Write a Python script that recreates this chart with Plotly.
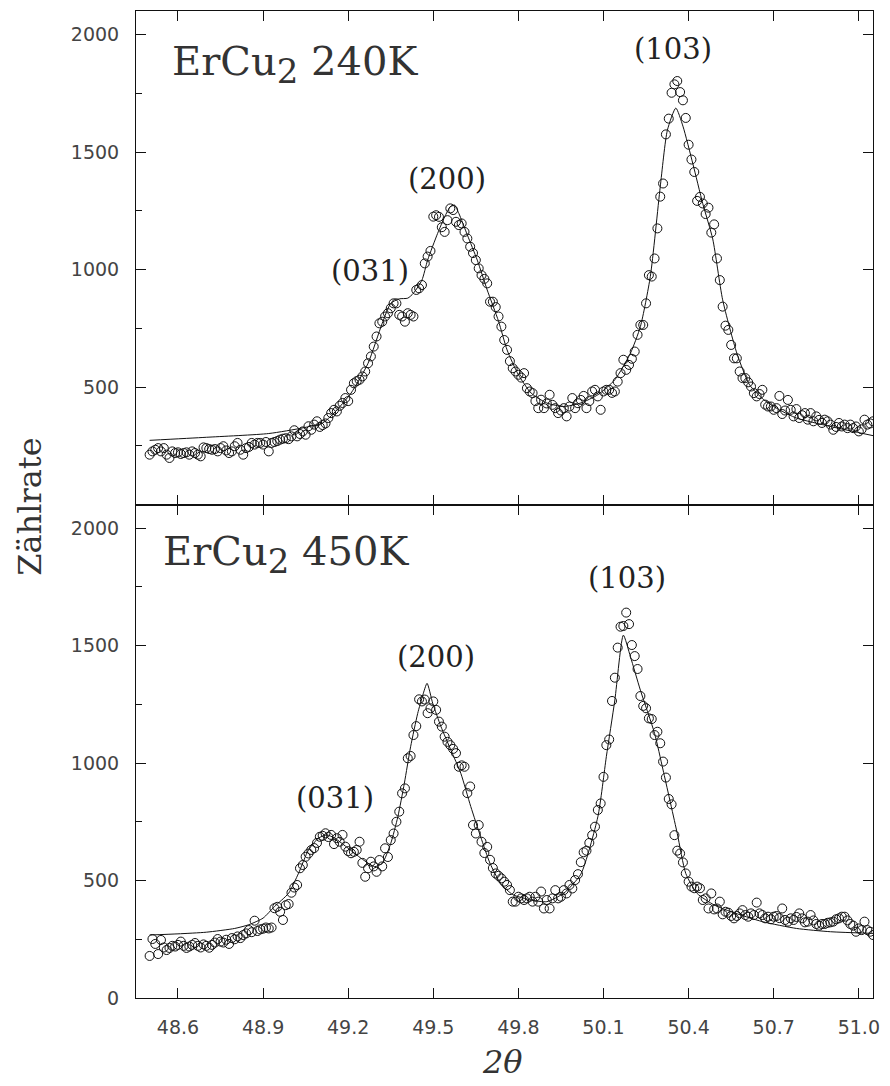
import plotly.graph_objects as go

# 2-theta grid of the measured points (shared by both panels)
TWO_THETA = [
    48.50, 48.51, 48.52, 48.53, 48.54, 48.55, 48.56, 48.57, 48.58, 48.59,
    48.60, 48.61, 48.62, 48.63, 48.64, 48.65, 48.66, 48.67, 48.68, 48.69,
    48.70, 48.71, 48.72, 48.73, 48.74, 48.75, 48.76, 48.77, 48.78, 48.79,
    48.80, 48.81, 48.82, 48.83, 48.84, 48.85, 48.86, 48.87, 48.88, 48.89,
    48.90, 48.91, 48.92, 48.93, 48.94, 48.95, 48.96, 48.97, 48.98, 48.99,
    49.00, 49.01, 49.02, 49.03, 49.04, 49.05, 49.06, 49.07, 49.08, 49.09,
    49.10, 49.11, 49.12, 49.13, 49.14, 49.15, 49.16, 49.17, 49.18, 49.19,
    49.20, 49.21, 49.22, 49.23, 49.24, 49.25, 49.26, 49.27, 49.28, 49.29,
    49.30, 49.31, 49.32, 49.33, 49.34, 49.35, 49.36, 49.37, 49.38, 49.39,
    49.40, 49.41, 49.42, 49.43, 49.44, 49.45, 49.46, 49.47, 49.48, 49.49,
    49.50, 49.51, 49.52, 49.53, 49.54, 49.55, 49.56, 49.57, 49.58, 49.59,
    49.60, 49.61, 49.62, 49.63, 49.64, 49.65, 49.66, 49.67, 49.68, 49.69,
    49.70, 49.71, 49.72, 49.73, 49.74, 49.75, 49.76, 49.77, 49.78, 49.79,
    49.80, 49.81, 49.82, 49.83, 49.84, 49.85, 49.86, 49.87, 49.88, 49.89,
    49.90, 49.91, 49.92, 49.93, 49.94, 49.95, 49.96, 49.97, 49.98, 49.99,
    50.00, 50.01, 50.02, 50.03, 50.04, 50.05, 50.06, 50.07, 50.08, 50.09,
    50.10, 50.11, 50.12, 50.13, 50.14, 50.15, 50.16, 50.17, 50.18, 50.19,
    50.20, 50.21, 50.22, 50.23, 50.24, 50.25, 50.26, 50.27, 50.28, 50.29,
    50.30, 50.31, 50.32, 50.33, 50.34, 50.35, 50.36, 50.37, 50.38, 50.39,
    50.40, 50.41, 50.42, 50.43, 50.44, 50.45, 50.46, 50.47, 50.48, 50.49,
    50.50, 50.51, 50.52, 50.53, 50.54, 50.55, 50.56, 50.57, 50.58, 50.59,
    50.60, 50.61, 50.62, 50.63, 50.64, 50.65, 50.66, 50.67, 50.68, 50.69,
    50.70, 50.71, 50.72, 50.73, 50.74, 50.75, 50.76, 50.77, 50.78, 50.79,
    50.80, 50.81, 50.82, 50.83, 50.84, 50.85, 50.86, 50.87, 50.88, 50.89,
    50.90, 50.91, 50.92, 50.93, 50.94, 50.95, 50.96, 50.97, 50.98, 50.99,
    51.00, 51.01, 51.02, 51.03, 51.04, 51.05,
]

# measured counts, ErCu2 at 240 K (top panel)
COUNTS_240K = [
    212, 226, 233, 240, 226, 240, 212, 198, 226, 219,
    222, 215, 219, 222, 212, 226, 219, 212, 205, 243,
    240, 236, 233, 236, 226, 240, 248, 230, 219, 226,
    248, 262, 233, 212, 240, 245, 262, 255, 262, 262,
    255, 266, 226, 262, 266, 270, 276, 280, 282, 278,
    290, 316, 290, 300, 311, 297, 333, 318, 340, 354,
    330, 338, 345, 368, 389, 403, 396, 420, 432, 453,
    440, 488, 516, 525, 531, 545, 566, 601, 630, 672,
    715, 771, 778, 800, 814, 835, 856, 856, 807, 800,
    778, 814, 807, 800, 913, 920, 934, 1026, 1055, 1079,
    1225, 1231, 1224, 1180, 1160, 1210, 1260, 1253, 1203, 1189,
    1196, 1160, 1132, 1097, 1070, 1040, 1005, 976, 960, 941,
    863, 863, 840, 800, 757, 700, 658, 610, 580, 566,
    552, 540, 559, 495, 481, 474, 440, 410, 446, 410,
    430, 467, 424, 410, 389, 400, 410, 375, 417, 453,
    410, 431, 445, 462, 410, 440, 481, 488, 460, 403,
    481, 488, 488, 475, 481, 523, 559, 616, 573, 594,
    620, 651, 722, 764, 764, 856, 976, 970, 1047, 1175,
    1310, 1366, 1575, 1642, 1752, 1788, 1802, 1755, 1720, 1645,
    1531, 1468, 1415, 1292, 1309, 1281, 1236, 1263, 1157, 1192,
    1047, 955, 842, 761, 743, 679, 622, 622, 566, 538,
    538, 520, 502, 474, 460, 470, 488, 425, 417, 417,
    403, 410, 462, 385, 400, 445, 403, 375, 406, 368,
    380, 389, 361, 389, 354, 375, 360, 347, 361, 354,
    340, 318, 330, 347, 332, 340, 325, 340, 325, 332,
    311, 320, 361, 340, 345, 354,
]

# measured counts, ErCu2 at 450 K (bottom panel)
COUNTS_450K = [
    179, 251, 230, 187, 247, 215, 204, 213, 222, 219,
    226, 240, 222, 213, 219, 226, 234, 222, 215, 228,
    222, 214, 226, 236, 251, 240, 236, 248, 230, 255,
    250, 262, 255, 268, 275, 289, 280, 329, 285, 292,
    295, 300, 296, 300, 382, 388, 367, 332, 395, 400,
    448, 470, 481, 552, 566, 601, 615, 630, 638, 660,
    686, 690, 701, 685, 694, 655, 680, 665, 694, 644,
    625, 616, 622, 630, 665, 575, 516, 552, 580, 560,
    537, 587, 560, 637, 600, 672, 700, 750, 793, 871,
    892, 1020, 1030, 1119, 1157, 1271, 1262, 1270, 1212, 1233,
    1262, 1226, 1176, 1155, 1112, 1090, 1076, 1060, 1042, 984,
    990, 984, 872, 900, 736, 700, 736, 665, 617, 643,
    588, 553, 530, 520, 509, 495, 481, 459, 410, 410,
    431, 424, 417, 424, 431, 410, 431, 410, 453, 381,
    417, 381, 424, 459, 424, 431, 459, 445, 481, 466,
    502, 527, 578, 620, 627, 660, 693, 729, 800, 828,
    941, 1076, 1100, 1264, 1363, 1491, 1580, 1583, 1640, 1591,
    1502, 1455, 1400, 1285, 1243, 1233, 1190, 1187, 1119, 1133,
    1084, 1006, 938, 847, 824, 693, 627, 615, 577, 530,
    495, 474, 467, 474, 467, 417, 424, 381, 445, 377,
    381, 410, 356, 367, 363, 349, 339, 349, 360, 374,
    353, 346, 360, 353, 406, 360, 353, 339, 346, 335,
    346, 349, 340, 381, 332, 325, 339, 332, 345, 360,
    339, 322, 325, 353, 330, 315, 308, 315, 315, 320,
    322, 325, 335, 339, 346, 346, 330, 315, 308, 282,
    296, 289, 325, 289, 282, 268,
]

# fitted profile, 240 K
FIT_240K_X = [48.50, 48.70, 48.92, 49.04, 49.11, 49.15, 49.21, 49.27, 49.32, 49.35,
              49.38, 49.41, 49.43, 49.46, 49.48, 49.515, 49.54, 49.56, 49.575, 49.59,
              49.62, 49.655, 49.69, 49.73, 49.76, 49.80, 49.845, 49.90, 49.96, 50.02,
              50.08, 50.14, 50.195, 50.23, 50.265, 50.30, 50.325, 50.355, 50.38, 50.415,
              50.45, 50.485, 50.52, 50.57, 50.615, 50.665, 50.72, 50.78, 50.90, 51.05]
FIT_240K_Y = [273, 286, 302, 326, 347, 389, 474, 601, 771, 856,
              875, 878, 899, 955, 1040, 1153, 1224, 1267, 1274, 1239,
              1147, 1040, 913, 780, 658, 552, 474, 432, 417, 432,
              467, 531, 644, 757, 970, 1352, 1592, 1687, 1610, 1450,
              1280, 1130, 871, 644, 509, 446, 403, 368, 332, 293]

# fitted profile, 450 K
FIT_450K_X = [48.50, 48.60, 48.70, 48.80, 48.85, 48.90, 48.94, 48.99, 49.025, 49.06,
              49.095, 49.124, 49.153, 49.20, 49.246, 49.293, 49.32, 49.35, 49.375, 49.398,
              49.42, 49.445, 49.463, 49.478, 49.498, 49.527, 49.562, 49.597, 49.632, 49.667,
              49.70, 49.737, 49.78, 49.845, 49.90, 49.96, 50.02, 50.08, 50.11, 50.14,
              50.17, 50.195, 50.23, 50.28, 50.31, 50.36, 50.39, 50.43, 50.49, 50.55,
              50.66, 50.78, 50.90, 51.05]
FIT_450K_Y = [268, 273, 280, 296, 312, 340, 389, 446, 531, 630,
              680, 694, 680, 637, 594, 559, 573, 658, 771, 914,
              1069, 1211, 1289, 1339, 1254, 1155, 1055, 956, 815, 686,
              573, 488, 440, 417, 410, 446, 527, 771, 1027, 1268,
              1544, 1452, 1310, 1126, 970, 700, 530, 445, 396, 367,
              325, 296, 282, 275]

X_TICKS = [48.6, 48.9, 49.2, 49.5, 49.8, 50.1, 50.4, 50.7, 51.0]
Y_TICKS_TOP = [500, 1000, 1500, 2000]
Y_TICKS_BOTTOM = [0, 500, 1000, 1500, 2000]
Y_MINOR = [250, 750, 1250, 1750]

PEAKS_TOP = [("(031)", 0.318, 0.737), ("(200)", 0.4218, 0.830), ("(103)", 0.7291, 0.9615)]
PEAKS_BOTTOM = [("(031)", 0.2695, 0.2024), ("(200)", 0.4077, 0.3451), ("(103)", 0.6658, 0.4251)]

INK = "#111111"
TICKFONT = dict(family="DejaVu Sans", size=19, color="#444444")
SERIF = "DejaVu Serif"

fig = go.Figure()

marker = dict(symbol="circle-open", size=9, color=INK, line=dict(width=1, color=INK))

fig.add_trace(go.Scatter(x=TWO_THETA, y=COUNTS_240K, mode="markers", marker=marker,
                         xaxis="x2", yaxis="y2", showlegend=False, hoverinfo="skip"))
fig.add_trace(go.Scatter(x=FIT_240K_X, y=FIT_240K_Y, mode="lines",
                         line=dict(color=INK, width=1, shape="spline", smoothing=0.6),
                         xaxis="x2", yaxis="y2", showlegend=False, hoverinfo="skip"))
fig.add_trace(go.Scatter(x=TWO_THETA, y=COUNTS_450K, mode="markers", marker=marker,
                         xaxis="x", yaxis="y", showlegend=False, hoverinfo="skip"))
fig.add_trace(go.Scatter(x=FIT_450K_X, y=FIT_450K_Y, mode="lines",
                         line=dict(color=INK, width=1, shape="spline", smoothing=0.6),
                         xaxis="x", yaxis="y", showlegend=False, hoverinfo="skip"))
# empty traces so the minor-tick overlay axes get drawn
fig.add_trace(go.Scatter(x=[], y=[], xaxis="x", yaxis="y3", showlegend=False, hoverinfo="skip"))
fig.add_trace(go.Scatter(x=[], y=[], xaxis="x2", yaxis="y4", showlegend=False, hoverinfo="skip"))

XRANGE = [48.452, 51.05]
YRANGE = [0, 2100]

common_x = dict(range=XRANGE, tickvals=X_TICKS, ticktext=[f"{v:.1f}" for v in X_TICKS],
                ticks="inside", ticklen=10, tickwidth=1, tickcolor=INK,
                showline=True, linecolor=INK, linewidth=1, mirror="ticks",
                showgrid=False, zeroline=False, tickfont=TICKFONT)
common_y = dict(range=YRANGE, ticks="inside", ticklen=10, tickwidth=1, tickcolor=INK,
                showline=True, linecolor=INK, linewidth=1, mirror="ticks",
                showgrid=False, zeroline=False, tickfont=TICKFONT, ticklabelstandoff=12)
minor_y = dict(range=YRANGE, tickvals=Y_MINOR, ticks="inside", ticklen=6, tickwidth=1,
               tickcolor=INK, showticklabels=False, showline=False, showgrid=False,
               zeroline=False, side="left")

fig.update_layout(
    width=890, height=1086,
    margin=dict(l=136, r=12, t=10, b=88),
    paper_bgcolor="white", plot_bgcolor="white",
    xaxis=dict(common_x, anchor="y", domain=[0, 1], ticklabelstandoff=12),
    xaxis2=dict(common_x, anchor="y2", domain=[0, 1], matches="x", showticklabels=False),
    yaxis=dict(common_y, anchor="x", domain=[0, 0.5], tickvals=Y_TICKS_BOTTOM),
    yaxis2=dict(common_y, anchor="x2", domain=[0.5, 1], tickvals=Y_TICKS_TOP),
    yaxis3=dict(minor_y, overlaying="y", anchor="x"),
    yaxis4=dict(minor_y, overlaying="y2", anchor="x2"),
)

SUB2 = '<sub><span style="font-size:34px">2</span></sub>'
ann = []
ann.append(dict(text="ErCu" + SUB2 + " 240K", x=0.0458, y=0.9453, xref="paper", yref="paper",
                xanchor="left", yanchor="middle", showarrow=False,
                font=dict(family=SERIF, size=40, color="#333333")))
ann.append(dict(text="ErCu" + SUB2 + " 450K", x=0.0337, y=0.4494, xref="paper", yref="paper",
                xanchor="left", yanchor="middle", showarrow=False,
                font=dict(family=SERIF, size=40, color="#333333")))
for label, px, py in PEAKS_TOP + PEAKS_BOTTOM:
    ann.append(dict(text=label, x=px, y=py, xref="paper", yref="paper",
                    xanchor="center", yanchor="middle", showarrow=False,
                    font=dict(family=SERIF, size=29, color="#222222")))
ann.append(dict(text="Zählrate", x=-0.1435, y=0.498, xref="paper", yref="paper",
                xanchor="center", yanchor="middle", textangle=-90, showarrow=False,
                font=dict(family=SERIF, size=32, color="#333333")))
ann.append(dict(text="<i>2θ</i>", x=0.4973, y=-0.0648, xref="paper", yref="paper",
                xanchor="center", yanchor="middle", showarrow=False,
                font=dict(family=SERIF, size=32, color="#333333")))
fig.update_layout(annotations=ann)

fig.write_html("out.html")
